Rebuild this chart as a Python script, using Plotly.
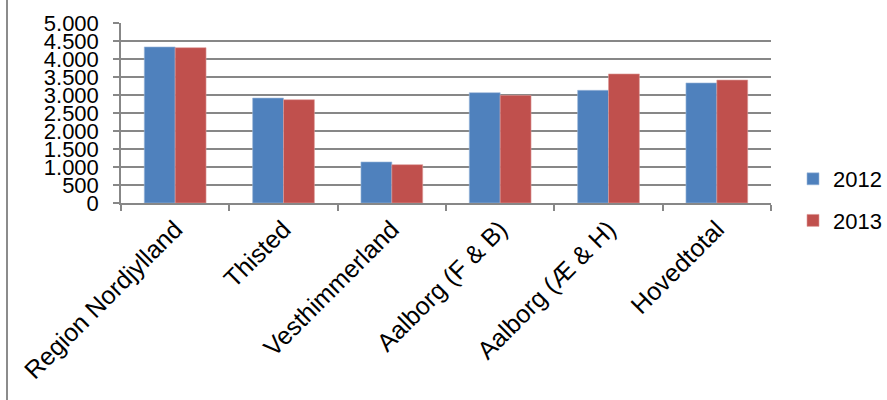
import plotly.graph_objects as go

# Categories and yearly values
regions = ["Region Nordjylland", "Thisted", "Vesthimmerland",
           "Aalborg (F & B)", "Aalborg (Æ & H)", "Hovedtotal"]
values_2012 = [4335, 2915, 1140, 3065, 3130, 3335]
values_2013 = [4315, 2870, 1065, 2990, 3585, 3415]
y_ticks = [0, 500, 1000, 1500, 2000, 2500, 3000, 3500, 4000, 4500, 5000]

BLUE = "#4F81BD"
RED = "#C0504D"
GRID = "#878787"
FONT = "Liberation Sans, Arial, sans-serif"

fig = go.Figure()
fig.add_trace(go.Bar(name="2012", x=regions, y=values_2012,
                     marker=dict(color=BLUE, line=dict(color="#9DB8DA", width=0.6)),
                     legendgroup="a"))
fig.add_trace(go.Bar(name="2013", x=regions, y=values_2013,
                     marker=dict(color=RED, line=dict(color="#DE9C9A", width=0.6)),
                     legendgroup="b"))

L, R, T, B = 121, 116, 23, 197
W, H = 887, 400
pw, ph = W - L - R, H - T - B

fig.update_layout(
    width=W, height=H,
    margin=dict(l=L, r=R, t=T, b=B, autoexpand=False),
    paper_bgcolor="white", plot_bgcolor="white",
    barmode="group", bargap=0.43, bargroupgap=0,
    separators=",.",
    font=dict(family=FONT, size=22, color="black"),
    showlegend=True,
    legend=dict(xref="container", yref="container",
                x=793 / W, y=1 - 158 / H, xanchor="left", yanchor="top",
                traceorder="grouped", tracegroupgap=10,
                font=dict(family=FONT, size=22, color="black"),
                itemwidth=30, bgcolor="rgba(0,0,0,0)"),
    xaxis=dict(showline=True, linecolor=GRID, linewidth=1.5,
               ticks="outside", ticklen=6, tickcolor=GRID, tickwidth=1.5,
               tickson="boundaries", tickangle=-45,
               tickfont=dict(family=FONT, size=25, color="black"),
               showgrid=False, zeroline=False, fixedrange=True),
    yaxis=dict(range=[0, 5000], tickvals=y_ticks, tickformat=",d",
               showline=True, linecolor=GRID, linewidth=1.5,
               ticks="outside", ticklen=6, tickcolor=GRID, tickwidth=1.5,
               showgrid=True, gridcolor=GRID, gridwidth=1.5,
               zeroline=False, ticklabelstandoff=10,
               tickfont=dict(family=FONT, size=22, color="black"),
               fixedrange=True),
)

# Frame line along the left edge of the chart
fig.add_shape(type="line", xref="paper", yref="paper",
              x0=(7 - L) / pw, x1=(7 - L) / pw,
              y0=(T + ph - H) / ph, y1=1 + T / ph,
              line=dict(color="#8C8C8C", width=2))

fig.write_html("out.html")
